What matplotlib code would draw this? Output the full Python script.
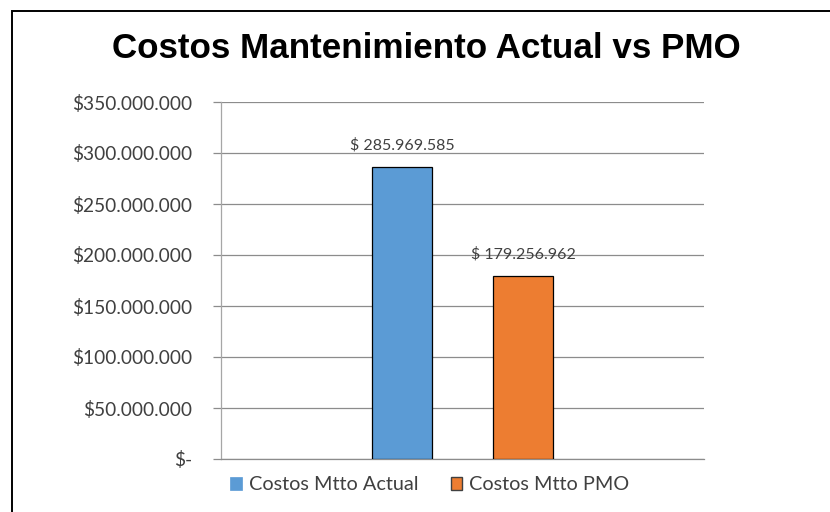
import matplotlib
matplotlib.use('Agg')
import matplotlib.pyplot as plt
from matplotlib.ticker import FuncFormatter, MultipleLocator
from matplotlib.patches import Rectangle, Patch

# ---- data ----
title = "Costos Mantenimiento Actual vs PMO"
series_names = ["Costos Mtto Actual", "Costos Mtto PMO"]
values = [285969585, 179256962]
colors = ["#5B9BD5", "#ED7D31"]
y_max = 350000000
y_step = 50000000

TXT = "#404040"
GRID = "#8C8C8C"
FONT = "Lato"


def money(v, space=False):
    if v == 0:
        return "$-"
    s = f"{int(round(v)):,}".replace(",", ".")
    return ("$ " if space else "$") + s


fig = plt.figure(figsize=(8.3, 5.12), dpi=100)
fig.patch.set_facecolor("white")

# outer chart frame (only top/left visible in reference)
fig.add_artist(Rectangle((11.5 / 830, -0.2), 1.5, 0.2 + (1 - 10.5 / 512),
                         transform=fig.transFigure, fill=False,
                         edgecolor="black", linewidth=1.4, clip_on=False))

ax = fig.add_axes([221 / 830, 53 / 512, 483 / 830, 357 / 512])
offsets = [-0.1255, 0.1255]
width = 0.124
for v, c, off, name in zip(values, colors, offsets, series_names):
    ax.bar(off, v, width=width, color=c, edgecolor="black", linewidth=0.9,
           label=name, zorder=3)
    ax.annotate(money(v, space=True), xy=(off, v), xytext=(0, 16),
                textcoords="offset points", ha="center", va="center",
                fontsize=11.5, family=FONT, color=TXT, zorder=4)

ax.set_xlim(-0.5, 0.5)
ax.set_ylim(0, y_max)
ax.yaxis.set_major_locator(MultipleLocator(y_step))
ax.yaxis.set_major_formatter(FuncFormatter(lambda v, p: money(v)))
ax.set_xticks([])
ax.grid(axis="y", color=GRID, linewidth=0.9, zorder=0)
ax.set_axisbelow(True)
for s in ["top", "right"]:
    ax.spines[s].set_visible(False)
ax.spines["left"].set_color("#A6A6A6")
ax.spines["left"].set_linewidth(0.9)
ax.spines["bottom"].set_color(GRID)
ax.spines["bottom"].set_linewidth(0.9)
ax.tick_params(axis="y", length=5.8, width=0.9, color=GRID, pad=15,
               labelsize=13.8, labelcolor=TXT)
for lab in ax.get_yticklabels():
    lab.set_family(FONT)

fig.text(426 / 830, 1 - 58 / 512, title, ha="center", va="baseline",
         fontsize=25.2, fontweight="bold", family="Liberation Sans", color="black")

handles = [Patch(facecolor=colors[0], edgecolor=colors[0], linewidth=0.5),
           Patch(facecolor=colors[1], edgecolor="#404040", linewidth=1.0)]
fig.legend(handles, series_names, loc="center", bbox_to_anchor=(430 / 830, 1 - 485 / 512),
           ncol=2, frameon=False, prop={"family": FONT, "size": 14.3},
           handlelength=0.6, handleheight=0.6, handletextpad=0.35,
           columnspacing=1.6, labelcolor=TXT)

fig.savefig("out.png", dpi=100)
